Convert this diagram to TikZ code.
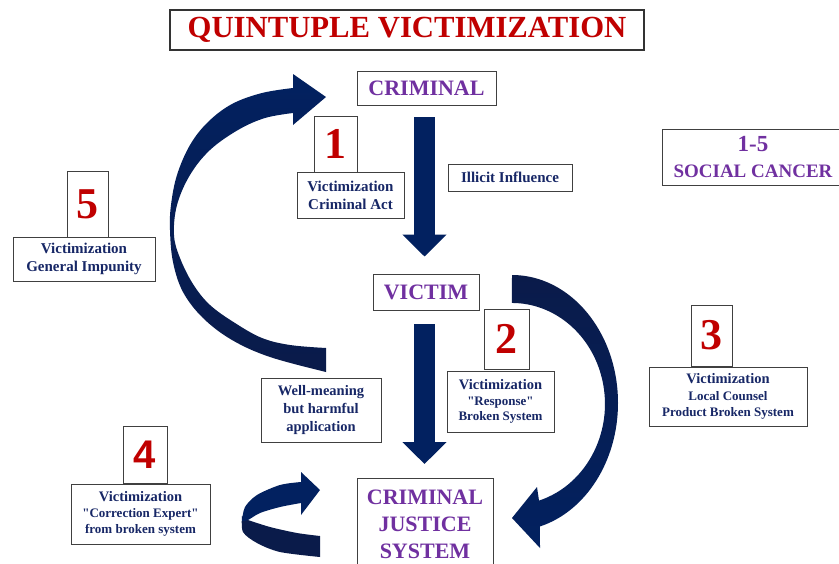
\documentclass[tikz,border=0pt]{standalone}
\usepackage{fontspec}
\setmainfont{Liberation Serif}[Ligatures=TeXOff]
\newfontfamily\sansb{Liberation Sans}
\usetikzlibrary{arrows.meta}
\definecolor{arrnavy}{HTML}{022160}
\definecolor{darknavy}{HTML}{0A1B4A}
\definecolor{txtnavy}{HTML}{172766}
\definecolor{vpurple}{HTML}{7030A0}
\definecolor{vred}{HTML}{C00000}
\newcommand{\fsz}[2]{\fontsize{#1}{#2}\selectfont}
\begin{document}
\begin{tikzpicture}[x=1pt,y=1pt,
  box/.style={draw=black!75, line width=0.9pt, fill=white, inner sep=0pt, align=center, text=txtnavy},
  numbox/.style={box, text=vred, font=\bfseries\fsz{44}{44}},
  mainbox/.style={box, text=vpurple},
  blockarrow/.style={line width=21pt, draw=arrnavy, -{Triangle[width=43pt,length=22pt]}},
]
\clip (0,0) rectangle (839,-563);
\useasboundingbox (0,0) rectangle (839,-563);
\fill[white] (0,0) rectangle (839,-563);

% big left arc (General Impunity loop back to CRIMINAL)
\shade[top color=arrnavy, bottom color=darknavy]
  plot[smooth, tension=0.6] coordinates {(326,-372) (270,-357) (232,-340) (203,-318) (183,-292) (173,-262) (170,-230) (171,-205) (177,-175) (190,-145) (208,-122) (232,-104) (262,-93) (293,-88)}
  -- (293,-74) -- (326,-97) -- (293,-125) -- (293,-113)
  -- plot[smooth, tension=0.6] coordinates {(293,-113) (265,-118) (238,-130) (210,-150) (190,-175) (177,-205) (174,-235) (180,-258) (193,-284) (210,-305) (235,-323) (262,-338) (290,-345) (326,-348)}
  -- cycle;

% right arc (VICTIM to CRIMINAL JUSTICE SYSTEM)
\shade[top color=darknavy, bottom color=arrnavy]
  (512,-275) arc[start angle=90, end angle=-74.7, x radius=106pt, y radius=128pt]
  -- (540,-548) -- (512,-518) -- (537,-487) -- (539,-500.6)
  arc[start angle=-73.1, end angle=90, x radius=93pt, y radius=101pt] -- cycle;

% small U-turn arrow
\fill[darknavy]
  plot[smooth] coordinates {(242,-516) (243,-532) (257,-543) (280,-552) (320,-557)}
  -- (320,-536)
  -- plot[smooth] coordinates {(320,-536) (297,-533) (270,-527) (248,-520)} -- cycle;
\fill[arrnavy]
  plot[smooth] coordinates {(242,-521) (248,-520) (260,-513) (280,-507) (301,-503)}
  -- (301,-515) -- (320,-490) -- (301,-472) -- (301,-482)
  -- plot[smooth] coordinates {(301,-482) (280,-485) (257,-495) (245,-507) (242,-521)} -- cycle;

% title
\node[box, draw=black!80, line width=1.2pt, minimum width=474pt, minimum height=40pt, text=vred, font=\bfseries\fsz{30.7}{32}] (title) at (407,-30) {QUINTUPLE VICTIMIZATION};

% main boxes
\node[mainbox, minimum width=139pt, minimum height=34pt, font=\bfseries\fsz{22}{22}] (crim) at (426.5,-88) {CRIMINAL};
\node[mainbox, minimum width=106pt, minimum height=36pt, font=\bfseries\fsz{22}{22}] (victim) at (426,-292) {VICTIM};
\node[mainbox, anchor=north, minimum width=136pt, minimum height=92pt, font=\bfseries\fsz{22}{27}] (cjs) at (425,-478) {CRIMINAL\\JUSTICE\\SYSTEM};
\node[mainbox, minimum width=182pt, minimum height=56pt, font=\bfseries\fsz{19}{26}] (soc) at (753,-157) {{\fsz{23}{26}1-5}\\SOCIAL CANCER};

% side labels
\node[box, minimum width=124pt, minimum height=27pt, font=\bfseries\fsz{15}{18}] (illicit) at (510,-177.5) {Illicit Influence};
\node[box, minimum width=120pt, minimum height=64pt, font=\bfseries\fsz{14.5}{18}] (well) at (321,-410) {Well-meaning\\but harmful\\application};

% numbered victimization boxes
\node[numbox, minimum width=43pt, minimum height=56pt] (n1) at (335.5,-144) {1};
\node[box, minimum width=107pt, minimum height=46pt, font=\bfseries\fsz{15}{18}] (l1) at (350.5,-195) {Victimization\\Criminal Act};

\node[numbox, minimum width=41pt, minimum height=66pt] (n5) at (87.5,-204) {5};
\node[box, minimum width=142pt, minimum height=44pt, font=\bfseries\fsz{15}{18}] (l5) at (84,-259) {Victimization\\General Impunity};

\node[numbox, minimum width=45pt, minimum height=60pt] (n2) at (506.5,-339) {2};
\node[box, minimum width=107pt, minimum height=61pt, font=\bfseries\fsz{13}{15.5}] (l2) at (500.5,-401.5) {{\fsz{14.5}{15.5}Victimization}\\"Response"\\Broken System};

\node[numbox, minimum width=41pt, minimum height=61pt] (n3) at (711.5,-335.5) {3};
\node[box, minimum width=158pt, minimum height=59pt, font=\bfseries\fsz{13}{16.5}] (l3) at (728,-396.5) {{\fsz{14.5}{16.5}Victimization}\\Local Counsel\\Product Broken System};

\node[numbox, minimum width=44pt, minimum height=57pt, font=\sansb\bfseries\fsz{40}{40}] (n4) at (145,-454.5) {4};
\node[box, minimum width=139pt, minimum height=60pt, font=\bfseries\fsz{13}{16}] (l4) at (140.5,-514) {{\fsz{14.5}{16}Victimization}\\"Correction Expert"\\from broken system};

% straight block arrows
\draw[blockarrow] ([xshift=-2pt,yshift=-12pt]crim.south) -- ([xshift=-1.5pt,yshift=17pt]victim.north);
\draw[blockarrow] ([xshift=-1.5pt,yshift=-14pt]victim.south) -- ([xshift=-0.5pt,yshift=14pt]cjs.north);
\end{tikzpicture}
\end{document}
